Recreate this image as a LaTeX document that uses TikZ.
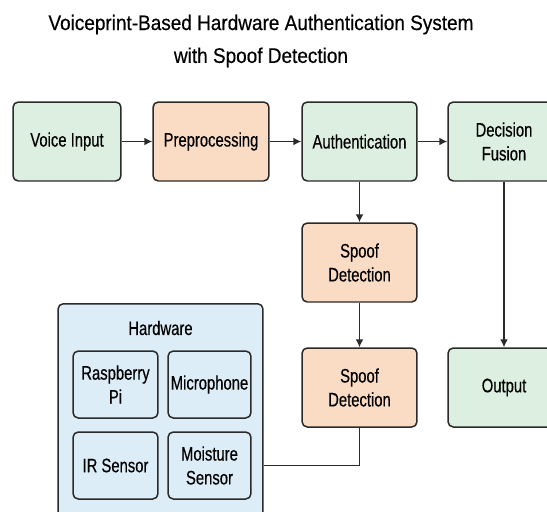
\documentclass[tikz,border=0pt]{standalone}
\usepackage{fontspec}
\setmainfont{Liberation Sans}
\newfontfamily\titlefont{Liberation Sans}[FakeStretch=0.9, FakeBold=0.4]
\newfontfamily\boxfont{Liberation Sans}[FakeStretch=0.76, FakeBold=0.4]
\usetikzlibrary{arrows.meta}

\definecolor{stepgreen}{HTML}{DCEFE1}
\definecolor{steppeach}{HTML}{FADCC4}
\definecolor{hwblue}{HTML}{DDEDF8}
\definecolor{edgegray}{HTML}{2A2A2A}

\tikzset{
  block/.style={draw=edgegray, line width=0.85pt, rounded corners=3pt,
    align=center, inner sep=0pt, minimum height=1.58cm,
    font=\boxfont\fontsize{11.1}{13.6}\selectfont},
  greenblock/.style={block, fill=stepgreen},
  peachblock/.style={block, fill=steppeach},
  hwpart/.style={block, fill=hwblue, minimum height=1.34cm},
  flow/.style={line width=0.85pt, draw=edgegray, -{Latex[length=4.5pt,width=4.5pt]}},
  link/.style={line width=0.85pt, draw=edgegray},
}

\begin{document}
\begin{tikzpicture}[x=0.02cm, y=-0.02cm]
\path[use as bounding box, clip] (0,0) rectangle (547,511);
\fill[white] (0,0) rectangle (547,511);

\node[align=center, font=\titlefont\fontsize{12}{18.7}\selectfont] (title) at (261,41)
  {Voiceprint-Based Hardware Authentication System\\with Spoof Detection};

% top row
\node[greenblock, minimum width=2.16cm] (voice)  at ( 67.0,141.5) {Voice Input};
\node[peachblock, minimum width=2.32cm] (prep)   at (211.0,141.5) {Preprocessing};
\node[greenblock, minimum width=2.30cm] (auth)   at (359.5,141.5) {Authentication};
\node[greenblock, minimum width=2.24cm] (fusion) at (504.0,141.5) {Decision\\Fusion};

% spoof column and output
\node[peachblock, minimum width=2.30cm] (spoof1) at (359.5,262.5) {Spoof\\Detection};
\node[peachblock, minimum width=2.30cm] (spoof2) at (359.5,387.5) {Spoof\\Detection};
\node[greenblock, minimum width=2.24cm] (output) at (504.0,387.5) {Output};

% hardware
\node[block, fill=hwblue, minimum width=4.1cm, minimum height=4.8cm,
      anchor=north] (hw) at (160.5,303) {};
\node[font=\boxfont\fontsize{11.1}{13.6}\selectfont] (hwlabel) at (160.5,328) {Hardware};
\node[hwpart, minimum width=1.70cm] (rpi)   at (115.5,384.5) {Raspberry\\Pi};
\node[hwpart, minimum width=1.66cm] (mic)   at (209.5,384.5) {Microphone};
\node[hwpart, minimum width=1.70cm] (ir)    at (115.5,465.5) {IR Sensor};
\node[hwpart, minimum width=1.66cm] (moist) at (209.5,465.5) {Moisture\\Sensor};

\draw[flow] (voice) -- (prep);
\draw[flow] (prep) -- (auth);
\draw[flow] (auth) -- (fusion);
\draw[flow] (auth) -- (spoof1);
\draw[flow] (spoof1) -- (spoof2);
\draw[flow] (fusion) -- (output);
\draw[link] (spoof2.south) |- (moist -| hw.east);
\end{tikzpicture}
\end{document}
